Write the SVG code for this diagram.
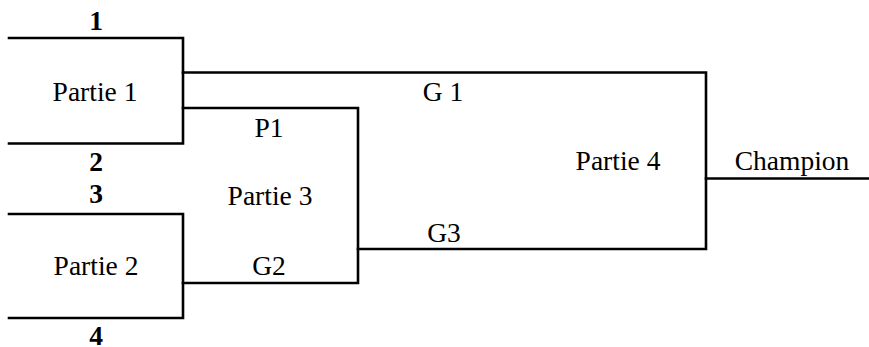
<svg xmlns="http://www.w3.org/2000/svg" width="869" height="347" viewBox="0 0 869 347">
<style>
.ln{fill:none;stroke:#000;stroke-width:2.6;stroke-linecap:square;stroke-linejoin:miter}
.t{font-family:'Liberation Serif','Times New Roman','DejaVu Serif',serif;font-size:27.5px;fill:#000;text-anchor:middle}
.b{font-weight:bold}
</style>
<rect width="869" height="347" fill="#fff"/>
<g id="seeds" class="t" font-family="Liberation Serif, serif">
<text class="b" x="96" y="30">1</text>
<text class="b" x="96" y="171">2</text>
<text class="b" x="96" y="203">3</text>
<text class="b" x="96" y="345">4</text>
</g>
<g id="partie1">
<path class="ln" d="M9,38 H183 V143.5 H9"/>
<text class="t" x="95" y="101">Partie 1</text>
</g>
<g id="partie2">
<path class="ln" d="M9,214 H183 V318 H9"/>
<text class="t" x="96" y="275">Partie 2</text>
</g>
<g id="partie3">
<path class="ln" d="M183,108 H358 V283 H183"/>
<text class="t" x="270" y="205">Partie 3</text>
</g>
<g id="partie4">
<path class="ln" d="M183,72.5 H706 V249 H358"/>
<text class="t" x="618" y="170">Partie 4</text>
</g>
<g id="connectors">
<path class="ln" d="M706,178.5 H869"/>
</g>
<g id="labels" class="t">
<text x="269" y="137">P1</text>
<text x="269" y="275">G2</text>
<text x="443" y="101">G 1</text>
<text x="444" y="242">G3</text>
<text x="792" y="170">Champion</text>
</g>
</svg>
